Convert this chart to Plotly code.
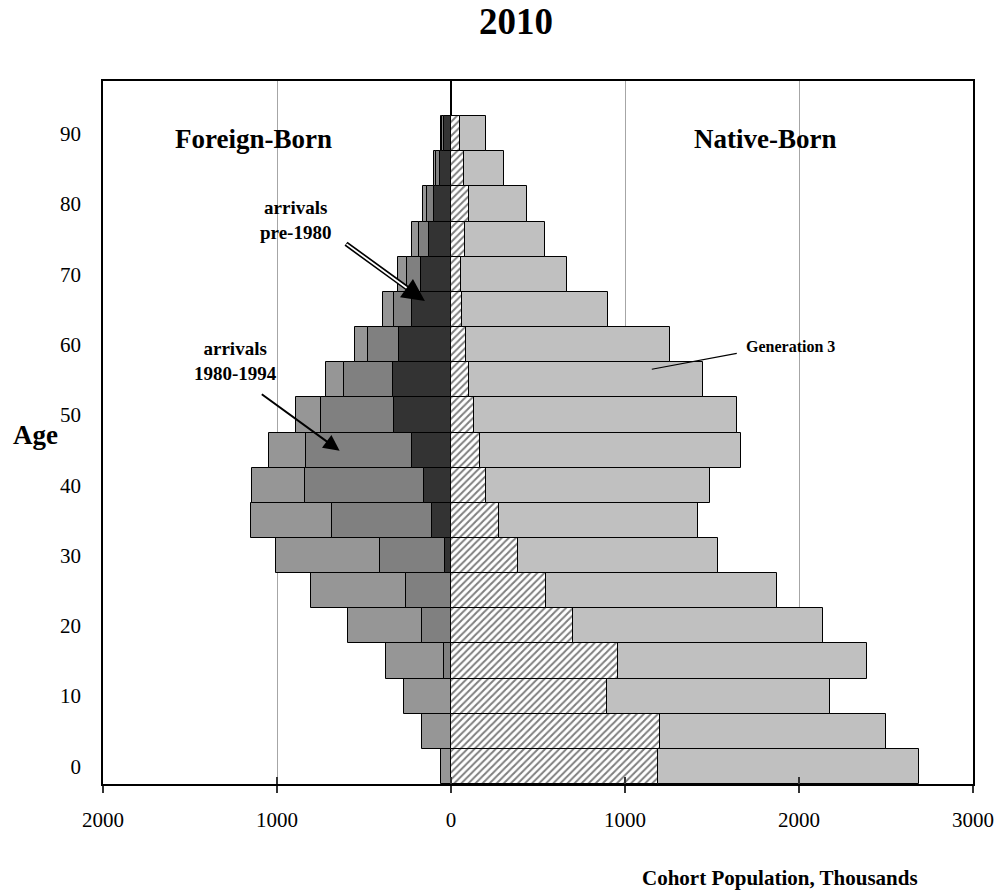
import plotly.graph_objects as go

# Age groups (start of 5-year cohort)
ages = [0, 5, 10, 15, 20, 25, 30, 35, 40, 45, 50, 55, 60, 65, 70, 75, 80, 85, 90]

# Foreign-born, thousands (plotted to the left)
arrivals_pre1980 = [0, 0, 0, 0, 0, 0, 32, 112, 156, 225, 326, 335, 297, 225, 173, 126, 98, 63, 38]
arrivals_1980_1994 = [0, 0, 0, 43, 169, 259, 378, 572, 681, 610, 419, 282, 181, 105, 80, 60, 42, 23, 12]
arrivals_1995_2010 = [55, 168, 268, 331, 424, 544, 593, 468, 309, 211, 145, 100, 76, 62, 54, 41, 19, 10, 10]

# Native-born, thousands (plotted to the right)
generation_2 = [1189, 1200, 896, 962, 700, 548, 386, 274, 201, 169, 131, 102, 87, 62, 60, 83, 102, 76, 51]
generation_3 = [1501, 1300, 1282, 1426, 1440, 1326, 1149, 1143, 1285, 1496, 1514, 1346, 1174, 841, 604, 455, 333, 230, 148]

x_tickvals = [-2000, -1000, 0, 1000, 2000, 3000]
x_ticktext = ["2000", "1000", "0", "1000", "2000", "3000"]
y_tickvals = [0, 10, 20, 30, 40, 50, 60, 70, 80, 90]

SERIF = "Liberation Serif, Times New Roman, serif"
LINE = dict(color="#000000", width=1)

fig = go.Figure()

fig.add_trace(go.Bar(y=ages, x=[-v for v in arrivals_pre1980], orientation="h", width=5,
                     name="arrivals pre-1980", marker=dict(color="#333333", line=LINE)))
fig.add_trace(go.Bar(y=ages, x=[-v for v in arrivals_1980_1994], orientation="h", width=5,
                     name="arrivals 1980-1994", marker=dict(color="#808080", line=LINE)))
fig.add_trace(go.Bar(y=ages, x=[-v for v in arrivals_1995_2010], orientation="h", width=5,
                     name="arrivals 1995-2010", marker=dict(color="#969696", line=LINE)))
fig.add_trace(go.Bar(y=ages, x=generation_2, orientation="h", width=5,
                     name="Generation 2",
                     marker=dict(color="white", line=LINE,
                                 pattern=dict(shape="/", fgcolor="#000000", bgcolor="white",
                                              size=5, solidity=0.4))))
fig.add_trace(go.Bar(y=ages, x=generation_3, orientation="h", width=5,
                     name="Generation 3", marker=dict(color="#c0c0c0", line=LINE)))
# helper (empty) trace so the overlay axis with inner ticks is drawn
fig.add_trace(go.Scatter(x=[None], y=[None], xaxis="x2", showlegend=False, hoverinfo="skip"))


def label(text, x, y, size, ref="x"):
    return dict(text=text, xref=ref, yref=("paper" if ref == "paper" else "y"), x=x, y=y,
                xanchor="center", yanchor="middle", showarrow=False,
                font=dict(family=SERIF, size=size, color="black"))


def pointer(x, y, ax, ay, width, color="black", head=0, size=1.0):
    return dict(text="", xref="x", yref="y", axref="x", ayref="y", x=x, y=y, ax=ax, ay=ay,
                showarrow=True, arrowhead=head, arrowsize=size, arrowwidth=width,
                arrowcolor=color, standoff=0, startstandoff=0)


annotations = [
    label("<b>2010</b>", 0.475, 1.084, 37, "paper"),
    label("<b>Foreign-Born</b>", -1136, 89.2, 27),
    label("<b>Native-Born</b>", 1804, 89.2, 27),
    label("<b>arrivals<br>pre-1980</b>", -896, 77.7, 19),
    label("<b>arrivals<br>1980-1994</b>", -1238, 57.7, 19),
    label("<b>Generation 3</b>", 1951, 59.8, 16),
    label("<b>Age</b>", -0.0774, 0.4964, 27, "paper"),
    label("<b>Cohort Population, Thousands</b>", 0.778, -0.1337, 21, "paper"),
    # arrow to 1980-1994 arrivals
    pointer(-640, 44.9, -1096, 53.1, 2, head=2, size=1.6),
    # double-line arrow to pre-1980 arrivals: outer black shaft, inner white shaft, head
    pointer(-205, 67.2, -612, 74.5, 5),
    pointer(-215, 67.35, -609, 74.45, 1.8, color="white"),
    pointer(-150, 66.2, -196, 67.0, 1.5, head=2, size=3),
    # pointer line for Generation 3
    pointer(1154, 56.5, 1651, 58.8, 1.2),
]

fig.update_layout(
    width=1006, height=892,
    margin=dict(l=103, r=25, t=81, b=108),
    paper_bgcolor="white", plot_bgcolor="white",
    barmode="relative", bargap=0,
    showlegend=False,
    font=dict(family=SERIF, color="black"),
    annotations=annotations,
    xaxis=dict(range=[-2000, 3000], tickvals=x_tickvals, ticktext=x_ticktext,
               showgrid=True, gridcolor="#a6a6a6", gridwidth=1,
               zeroline=True, zerolinecolor="black", zerolinewidth=2,
               showline=True, linecolor="black", linewidth=1.5, mirror=True,
               ticks="outside", ticklen=7, tickwidth=1.5, tickcolor="#333333",
               ticklabelstandoff=9,
               tickfont=dict(family=SERIF, size=21, color="black")),
    xaxis2=dict(overlaying="x", matches="x", range=[-2000, 3000], tickvals=x_tickvals,
                showticklabels=False, showgrid=False, zeroline=False, showline=False,
                ticks="inside", ticklen=7, tickwidth=1.5, tickcolor="#333333",
                side="bottom", layer="above traces"),
    yaxis=dict(range=[-2.5, 97.5], tickvals=y_tickvals, showgrid=False, zeroline=False,
               showline=True, linecolor="black", linewidth=1.5, mirror=True,
               ticks="", ticklabelstandoff=16,
               tickfont=dict(family=SERIF, size=21, color="black")),
)

fig.write_html("out.html", config={"displayModeBar": False},
               post_script="document.body.style.margin='0';document.body.style.padding='0';")
